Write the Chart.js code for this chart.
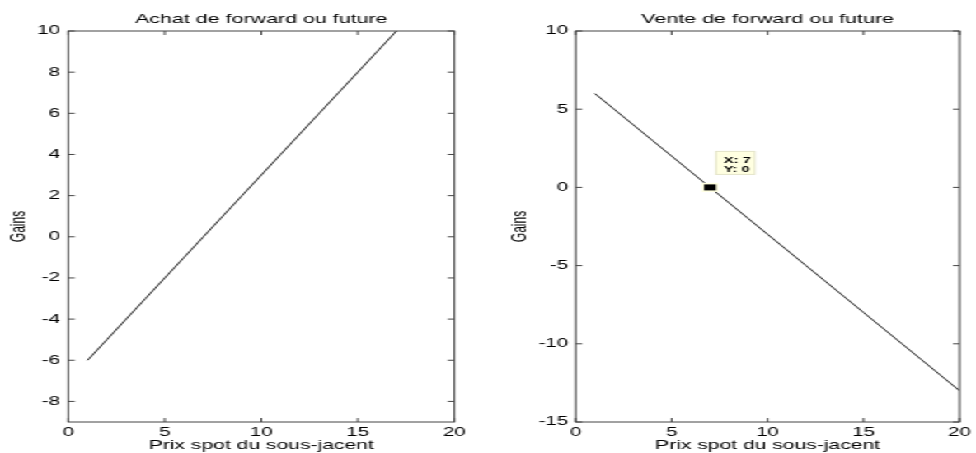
<!DOCTYPE html>
<html>
<head>
<meta charset="utf-8">
<script src="https://cdn.jsdelivr.net/npm/chart.js@4/dist/chart.umd.min.js"></script>
<style>
  html, body { margin: 0; padding: 0; background: #fff; }
  #figure {
    position: absolute; left: 0; top: 0;
    width: 592px; height: 453px;
    transform: scaleX(1.6486);
    transform-origin: 0 0;
  }
  #figure canvas { position: absolute; top: 0; }
</style>
</head>
<body>
<div id="figure">
  <canvas id="achat" width="296" height="453" style="left:0;width:296px;height:453px"></canvas>
  <canvas id="vente" width="296" height="453" style="left:296px;width:296px;height:453px"></canvas>
</div>
<script>
const prixSpot = [1, 2, 3, 4, 5, 6, 7, 8, 9, 10, 11, 12, 13, 14, 15, 16, 17, 18, 19, 20];
const gainsAchat = [-6, -5, -4, -3, -2, -1, 0, 1, 2, 3, 4, 5, 6, 7, 8, 9, 10, 11, 12, 13];
const gainsVente = [6, 5, 4, 3, 2, 1, 0, -1, -2, -3, -4, -5, -6, -7, -8, -9, -10, -11, -12, -13];
const ticksPrix = [0, 5, 10, 15, 20];
const ticksAchat = [-8, -6, -4, -2, 0, 2, 4, 6, 8, 10];
const ticksVente = [-15, -10, -5, 0, 5, 10];
const curseur = [7, 0];

Chart.defaults.font.family = '"Liberation Sans", Arial, Helvetica, sans-serif';
Chart.defaults.color = '#000';

const axisColor = '#444';
const tickLen = 4;

// cadre + graduations vers l'intérieur, façon MATLAB
const cadre = {
    id: 'cadre',
    afterDraw(chart) {
        const { ctx, chartArea: a, scales } = chart;
        ctx.save();
        ctx.strokeStyle = axisColor;
        ctx.lineWidth = 1;
        ctx.strokeRect(a.left, a.top, a.right - a.left, a.bottom - a.top);
        ctx.beginPath();
        scales.x.ticks.forEach(t => {
            const px = scales.x.getPixelForValue(t.value);
            ctx.moveTo(px, a.bottom); ctx.lineTo(px, a.bottom - tickLen);
            ctx.moveTo(px, a.top); ctx.lineTo(px, a.top + tickLen);
        });
        scales.y.ticks.forEach(t => {
            const py = scales.y.getPixelForValue(t.value);
            ctx.moveTo(a.left, py); ctx.lineTo(a.left + tickLen, py);
            ctx.moveTo(a.right, py); ctx.lineTo(a.right - tickLen, py);
        });
        ctx.stroke();
        ctx.restore();
    }
};

// bulle du curseur de données
const bulle = {
    id: 'bulle',
    afterDraw(chart) {
        const { ctx, scales } = chart;
        const px = scales.x.getPixelForValue(curseur[0]);
        const py = scales.y.getPixelForValue(curseur[1]);
        ctx.save();
        ctx.fillStyle = '#ffffe0';
        ctx.fillRect(px - 5, py - 4.5, 10, 9);
        ctx.fillStyle = '#000';
        ctx.fillRect(px - 3.6, py - 3, 7.2, 6);
        const bx = px + 3.6, by = py - 36;
        ctx.fillStyle = '#ffffe1';
        ctx.strokeStyle = '#e4e4c8';
        ctx.lineWidth = 1;
        ctx.fillRect(bx, by, 23.5, 23);
        ctx.strokeRect(bx, by, 23.5, 23);
        ctx.fillStyle = '#000';
        ctx.font = 'bold 9px "Liberation Sans", Arial, sans-serif';
        ctx.textAlign = 'left';
        ctx.textBaseline = 'alphabetic';
        ctx.fillText('X: ' + curseur[0], bx + 4.6, py - 24.4);
        ctx.fillText('Y: ' + curseur[1], bx + 4.6, py - 15.9);
        ctx.restore();
    }
};

function makeChart(id, titre, gains, yTicks, yMin, yMax, cfg, extra) {
    return new Chart(document.getElementById(id), {
        type: 'line',
        data: {
            datasets: [{
                data: prixSpot.map((x, i) => ({ x: x, y: gains[i] })),
                borderColor: '#222',
                borderWidth: 1,
                pointRadius: 0,
                tension: 0
            }]
        },
        options: {
            responsive: false,
            animation: false,
            devicePixelRatio: 1,
            layout: { padding: { left: 0, right: cfg.padRight, top: 0, bottom: 0 } },
            plugins: {
                legend: { display: false },
                tooltip: { enabled: false },
                title: {
                    display: true,
                    text: titre,
                    fullSize: false,
                    color: '#000',
                    font: { size: 13, weight: 'normal', lineHeight: 1.2 },
                    padding: { top: 11.2, bottom: 4.2 }
                }
            },
            scales: {
                x: {
                    type: 'linear',
                    min: 0,
                    max: 20,
                    afterBuildTicks: s => { s.ticks = ticksPrix.map(v => ({ value: v })); },
                    afterFit: s => { s.height = 31; },
                    grid: { display: false, drawTicks: false },
                    border: { display: false },
                    ticks: { padding: 3, maxRotation: 0, font: { size: 12.5, lineHeight: 1.2 } },
                    title: {
                        display: true,
                        text: 'Prix spot du sous-jacent',
                        font: { size: 12.8, lineHeight: 1 },
                        padding: { top: 0, bottom: 1 }
                    }
                },
                y: {
                    type: 'linear',
                    min: yMin,
                    max: yMax,
                    afterBuildTicks: s => { s.ticks = yTicks.map(v => ({ value: v })); },
                    afterFit: s => { s.width = cfg.yWidth; },
                    grid: { display: false, drawTicks: false },
                    border: { display: false },
                    ticks: { padding: cfg.tickPad, font: { size: 12.5, lineHeight: 1.2 } },
                    title: {
                        display: true,
                        text: 'Gains',
                        font: { size: 12, lineHeight: 1.2 },
                        padding: { top: cfg.gainsPad, bottom: 0 }
                    }
                }
            }
        },
        plugins: [cadre].concat(extra)
    });
}

makeChart('achat', 'Achat de forward ou future', gainsAchat, ticksAchat, -9, 10,
    { yWidth: 41.4, padRight: 20.4, tickPad: 5, gainsPad: 4.9 }, []);
makeChart('vente', 'Vente de forward ou future', gainsVente, ticksVente, -15, 10,
    { yWidth: 53.2, padRight: 8.7, tickPad: 4.5, gainsPad: 12.8 }, [bulle]);
</script>
</body>
</html>
